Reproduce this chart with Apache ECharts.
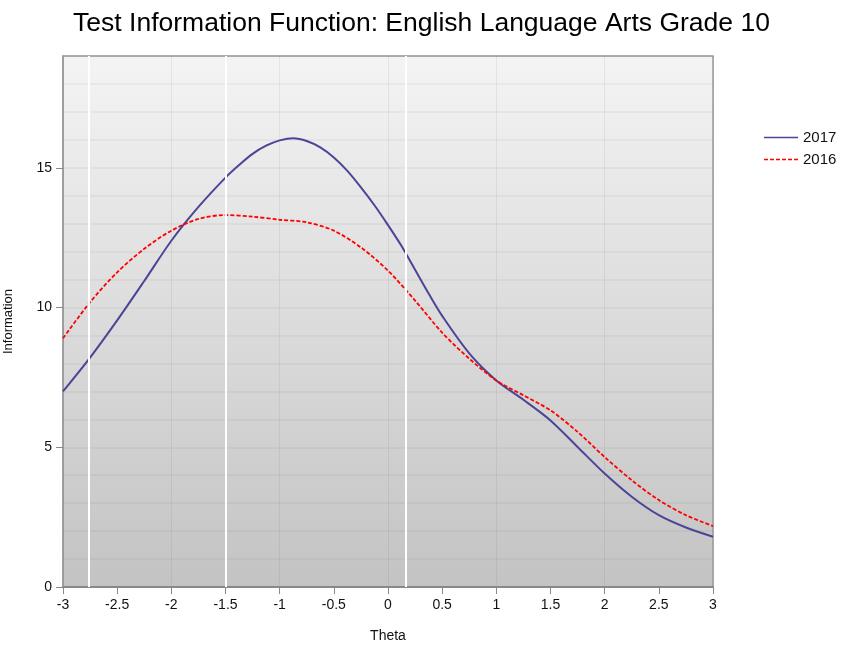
<!DOCTYPE html>
<html><head><meta charset="utf-8">
<script src="https://cdn.jsdelivr.net/npm/echarts@6/dist/echarts.min.js"></script>
<style>html,body{margin:0;padding:0;background:#fff}#c{width:843px;height:652px}</style>
</head><body><div id="c"></div>
<script>
const theta2017 = [-3,-2.75,-2.5,-2.25,-2,-1.75,-1.5,-1.375,-1.25,-1.125,-1,-0.875,-0.75,-0.625,-0.5,-0.375,-0.25,-0.125,0,0.125,0.25,0.375,0.5,0.75,1,1.25,1.5,1.75,2,2.25,2.5,2.75,3];
const info2017 = [7.0,8.21,9.54,10.95,12.39,13.6,14.65,15.1,15.5,15.79,15.98,16.06,15.96,15.73,15.37,14.89,14.3,13.66,12.95,12.2,11.35,10.5,9.7,8.36,7.39,6.7,5.96,5.01,4.06,3.23,2.57,2.13,1.8];
const theta2016 = [-3,-2.75,-2.5,-2.25,-2,-1.75,-1.5,-1.25,-1,-0.75,-0.5,-0.25,0,0.25,0.5,0.75,1,1.25,1.5,1.75,2,2.25,2.5,2.75,3];
const info2016 = [8.9,10.19,11.26,12.1,12.75,13.17,13.31,13.25,13.14,13.05,12.75,12.15,11.32,10.25,9.1,8.17,7.39,6.86,6.32,5.55,4.65,3.82,3.11,2.57,2.18];
const cutScores = [-2.76,-1.5,0.16];
const seriesNames = ['2017','2016'];

const font = 'Liberation Sans, Arial, sans-serif';
const chart = echarts.init(document.getElementById('c'));
const pair = (xs, ys) => xs.map((x,i)=>[x, ys[i]]);
let dash = '';
for (let x = 0; x < 34; x += 6) dash += 'M' + x + ',0h4v1.6h-4z';
chart.setOption({
  animation:false,
  backgroundColor:'#fff',
  title:{text:'Test Information Function: English Language Arts Grade 10',left:'center',top:5,
    textStyle:{fontFamily:font,fontSize:26.5,fontWeight:'normal',color:'#000'}},
  legend:{orient:'vertical',left:759,top:125,itemWidth:34,itemHeight:10,itemGap:7,symbolKeepAspect:true,
    data:[{name:'2017',icon:'path://M0,0h34v1.6h-34z'},{name:'2016',icon:'path://'+dash}],
    textStyle:{fontFamily:font,fontSize:15,color:'#111'}},
  grid:{left:63,right:130,top:56,bottom:65,outerBoundsMode:'none',containLabel:false,show:true,borderColor:'#9a9a9a',borderWidth:1.5,
    backgroundColor:{type:'linear',x:0,y:0,x2:0,y2:1,colorStops:[{offset:0,color:'#f4f4f4'},{offset:1,color:'#c3c3c3'}]}},
  xAxis:[{type:'value',min:-3,max:3,interval:0.5,name:'Theta',nameLocation:'middle',nameGap:42,
    nameTextStyle:{fontFamily:font,fontSize:14,color:'#111'},
    axisLine:{show:true,onZero:false,lineStyle:{color:'#888',width:2}},
    axisTick:{show:true,length:7,lineStyle:{color:'#888'}},
    axisLabel:{fontFamily:font,fontSize:14,color:'#111',margin:11,formatter:v=>String(v)},
    splitLine:{show:false}},
   {type:'value',min:-3,max:3,interval:1,position:'bottom',show:true,axisLine:{show:false},axisTick:{show:false},
    axisLabel:{show:false},splitLine:{show:true,lineStyle:{color:'rgba(0,0,0,0.06)',width:1}}}],
  yAxis:[{type:'value',min:0,max:19,interval:5,name:'Information',nameLocation:'middle',nameGap:48,
    nameTextStyle:{fontFamily:font,fontSize:13,color:'#111'},
    axisLine:{show:true,onZero:false,lineStyle:{color:'#9a9a9a',width:1.5}},
    axisTick:{show:true,length:7,lineStyle:{color:'#888'}},
    axisLabel:{fontFamily:font,fontSize:14,color:'#111',margin:11,showMaxLabel:false},
    splitLine:{show:false}},
   {type:'value',min:0,max:19,interval:1,position:'left',axisLine:{show:false,onZero:false},axisTick:{show:false},
    axisLabel:{show:false},splitLine:{show:true,lineStyle:{color:'rgba(0,0,0,0.035)',width:2}}}],
  series:[
    {name:'2017',type:'line',smooth:0.3,symbol:'none',data:pair(theta2017,info2017),
      lineStyle:{color:'#4b4597',width:2},itemStyle:{color:'#4b4597'},z:3,
      markLine:{silent:true,symbol:'none',label:{show:false},animation:false,
        lineStyle:{color:'#ffffff',width:2,type:'solid'},data:cutScores.map(v=>({xAxis:v}))}},
    {name:'2016',type:'line',smooth:0.3,symbol:'none',data:pair(theta2016,info2016),
      lineStyle:{color:'#ff0000',width:1.8,type:[4,2]},itemStyle:{color:'#ff0000'},z:4}
  ]
});
</script></body></html>
